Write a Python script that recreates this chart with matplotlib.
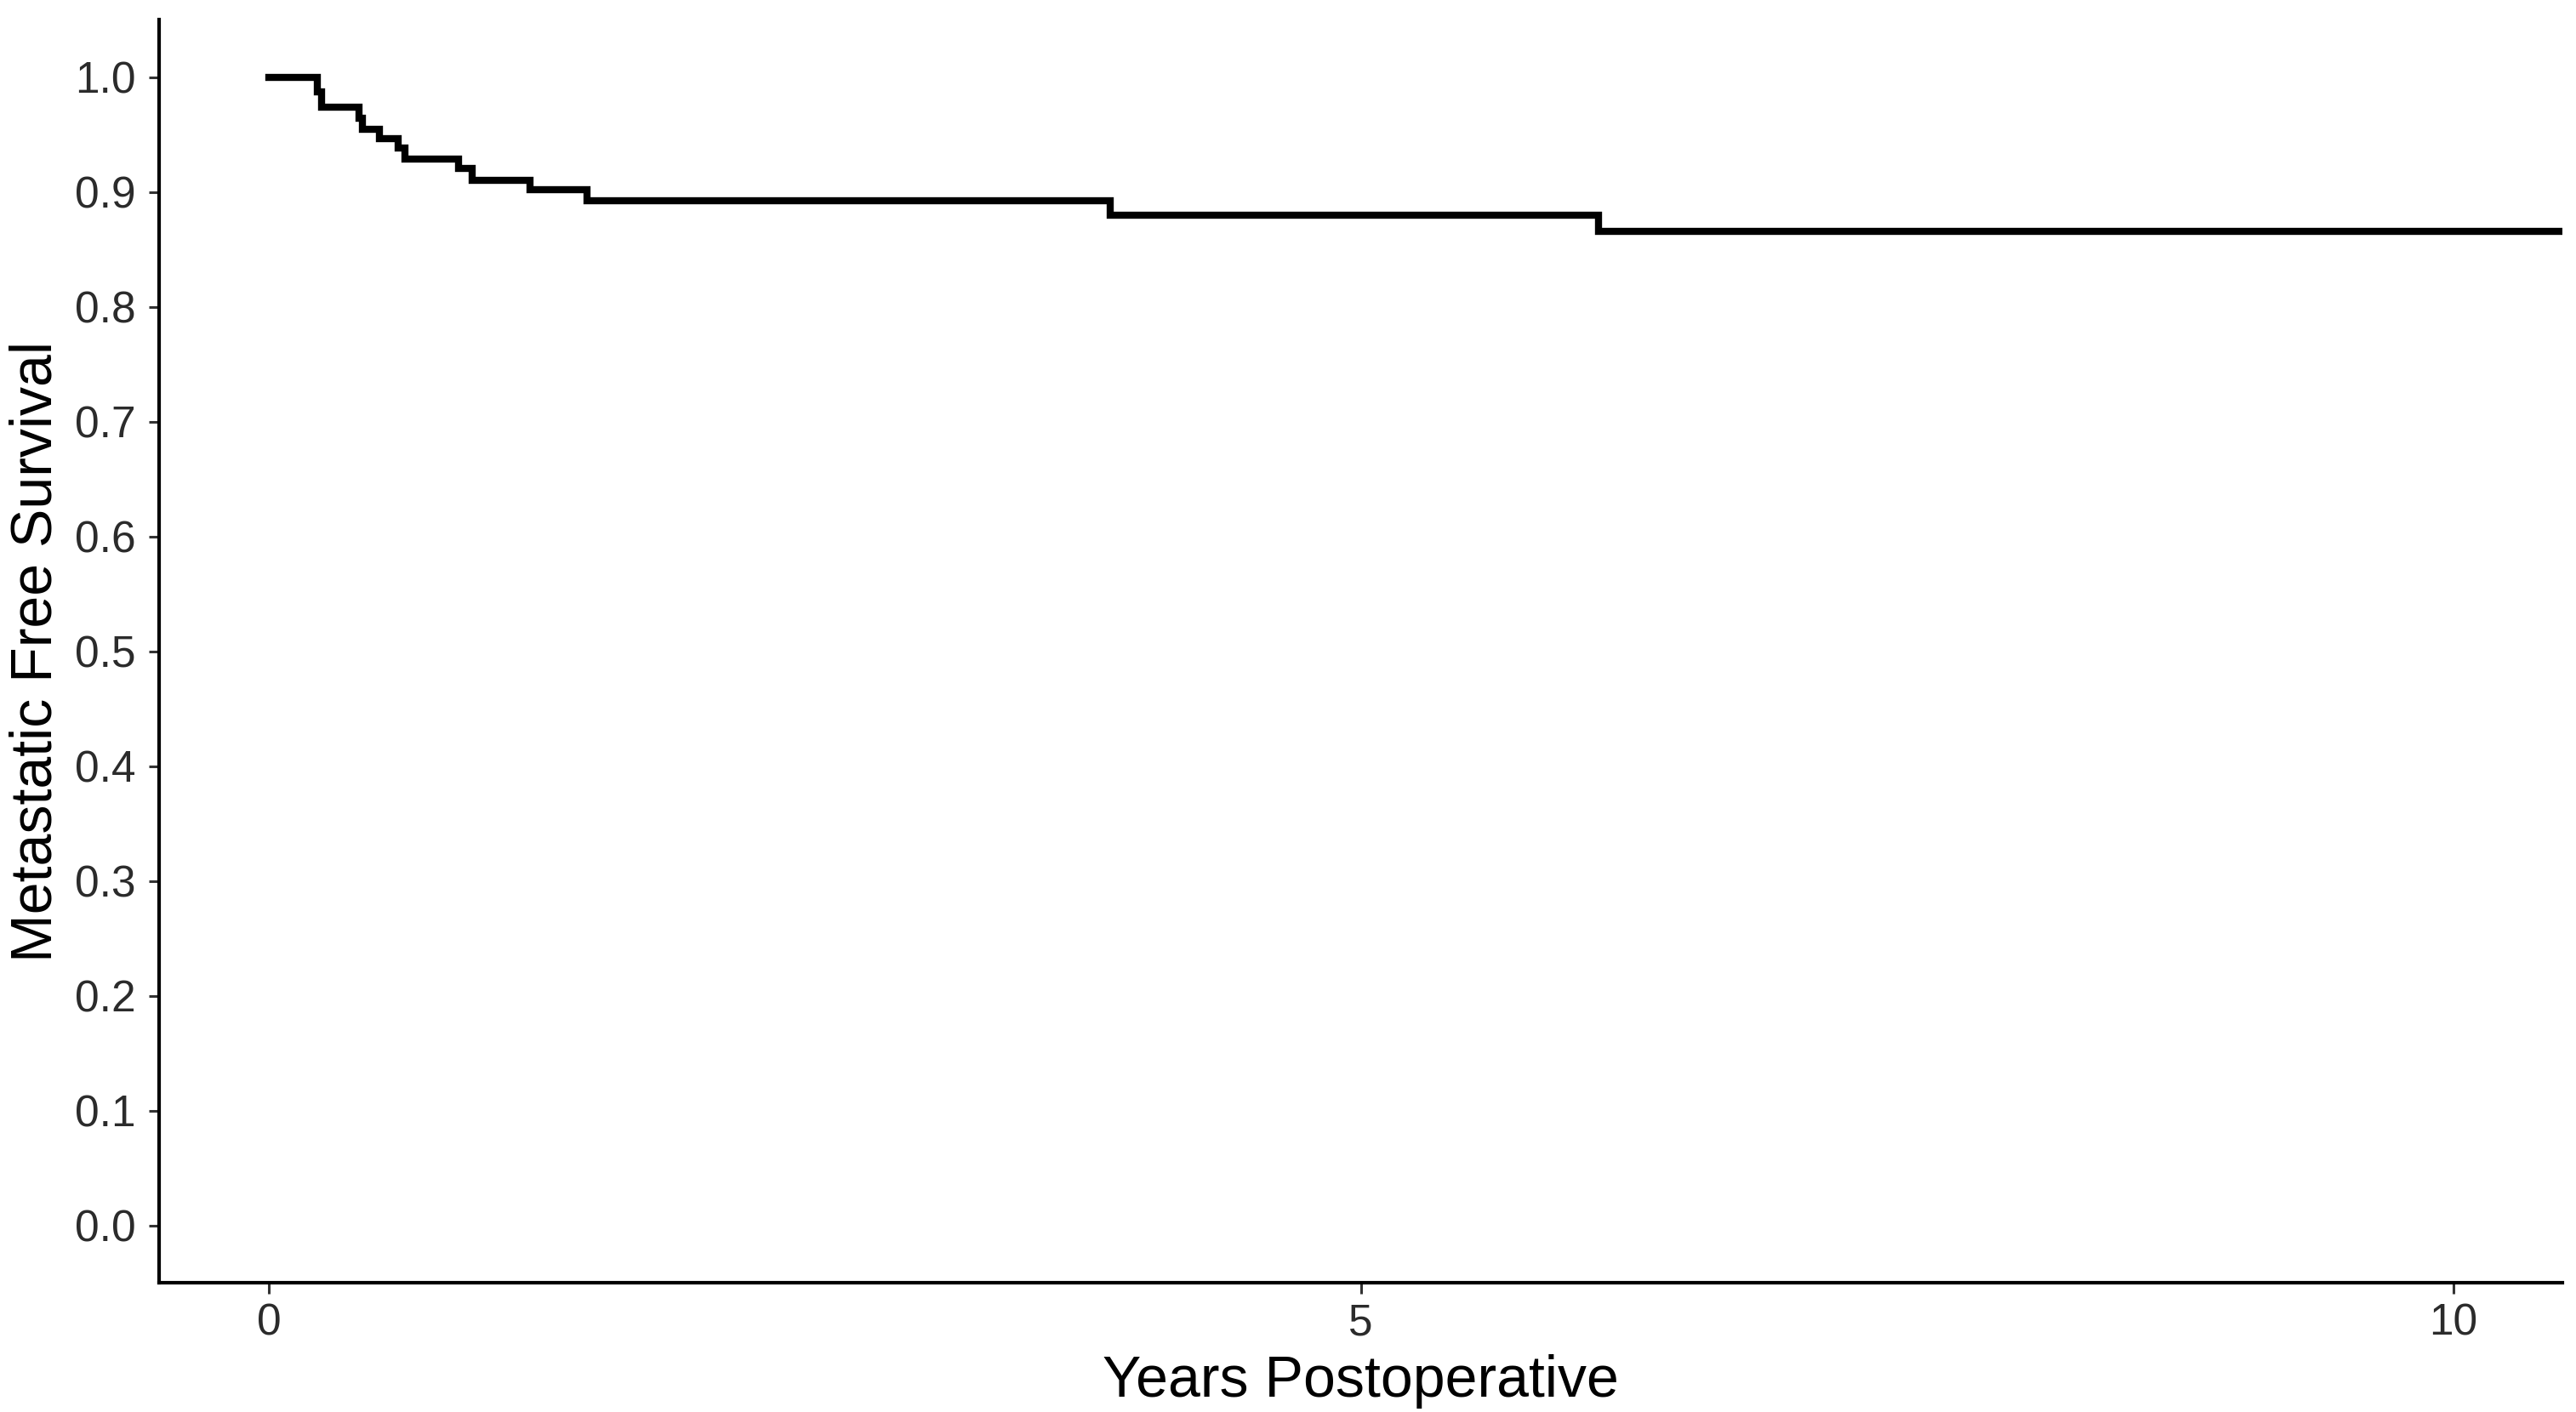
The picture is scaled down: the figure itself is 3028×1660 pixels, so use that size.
import matplotlib
matplotlib.use("Agg")
import matplotlib.pyplot as plt
import numpy as np

# Kaplan-Meier estimate (years, survival)
tempos = [0.0, 0.222, 0.243, 0.415, 0.431, 0.506, 0.591, 0.623, 0.870,
          0.931, 1.198, 1.458, 3.851, 6.088, 10.5]
sobrevida = [1.0, 0.987, 0.974, 0.964, 0.9546, 0.9467, 0.9383, 0.9289, 0.9203,
             0.9104, 0.9018, 0.8924, 0.880, 0.866, 0.866]

xticks = [0, 5, 10]
yticks = np.round(np.arange(0, 1.01, 0.1), 1)

plt.rcParams["font.family"] = ["Liberation Sans", "DejaVu Sans"]

fig = plt.figure(figsize=(15.14, 8.3), dpi=200)
ax = fig.add_axes([0.0619, 0.0914, 0.9328, 0.8946])

ax.plot(tempos, sobrevida, drawstyle="steps-post", color="black",
        linewidth=3.0, solid_joinstyle="miter")

ax.set_xlim(-0.5, 10.5)
ax.set_ylim(-0.05, 1.05)
ax.set_xticks(xticks)
ax.set_yticks(yticks)
ax.set_yticklabels([f"{v:.1f}" for v in yticks])

for lado in ["top", "right"]:
    ax.spines[lado].set_visible(False)
for lado in ["left", "bottom"]:
    ax.spines[lado].set_linewidth(1.5)
    ax.spines[lado].set_color("black")

ax.tick_params(axis="both", length=4.5, width=1.1, color="#333333",
               labelsize=18.5, labelcolor="#2b2b2b")
ax.tick_params(axis="y", pad=5.5)
ax.tick_params(axis="x", pad=4)

ax.set_xlabel("Years Postoperative", fontsize=24.5, color="black", labelpad=4)
ax.set_ylabel("Metastatic Free Survival", fontsize=24.5, color="black", labelpad=5)

fig.savefig("out.png", dpi=200, facecolor="white")
